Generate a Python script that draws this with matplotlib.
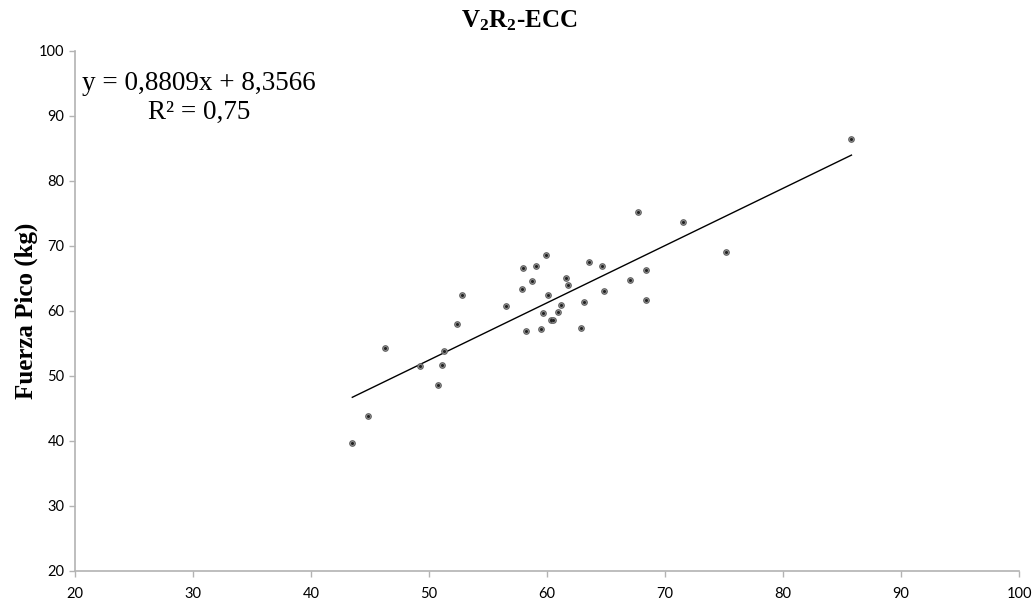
import numpy as np
import matplotlib
matplotlib.use('Agg')
import matplotlib.pyplot as plt

# data
carga = [43.5, 44.8, 46.3, 49.2, 50.8, 51.1, 51.3, 52.4, 52.8, 56.5,
         57.9, 58.0, 58.2, 58.7, 59.1, 59.5, 59.7, 59.9, 60.1, 60.3,
         60.5, 60.9, 61.2, 61.6, 61.8, 62.9, 63.1, 63.6, 64.7, 64.8,
         67.0, 67.7, 68.4, 68.4, 71.5, 75.2, 85.8]
fuerza = [39.6, 43.8, 54.3, 51.5, 48.5, 51.6, 53.8, 57.9, 62.4, 60.7,
          63.4, 66.6, 56.9, 64.5, 66.9, 57.2, 59.6, 68.5, 62.4, 58.5,
          58.6, 59.8, 60.9, 65.1, 64.0, 57.4, 61.3, 67.5, 66.8, 63.1,
          64.7, 75.2, 66.3, 61.6, 73.6, 69.1, 86.4]

pendiente = 0.8809
intercepto = 8.3566
r2 = 0.75

plt.rcParams['mathtext.fontset'] = 'custom'
plt.rcParams['mathtext.rm'] = 'Liberation Serif'
plt.rcParams['mathtext.bf'] = 'Liberation Serif:bold'

fig = plt.figure(figsize=(10.36, 6.03), dpi=100)
ax = fig.add_axes([0.0724, 0.0536, 0.9112, 0.8623])

x = np.array(carga)
y = np.array(fuerza)

xl = np.array([x.min(), x.max()])
ax.plot(xl, pendiente*xl + intercepto, color='black', lw=1.0, zorder=2)

ax.scatter(x, y, s=16, facecolor='#a0a0a0', edgecolor='#5f5f5f', linewidths=0.8, zorder=3)
ax.scatter(x, y, s=1.5, color='#222222', zorder=4)

ax.set_xlim(20, 100)
ax.set_ylim(20, 100)
ax.set_xticks(np.arange(20, 101, 10))
ax.set_yticks(np.arange(20, 101, 10))

for s in ['top', 'right']:
    ax.spines[s].set_visible(False)
for s in ['left', 'bottom']:
    ax.spines[s].set_color('#b3b3b3')
    ax.spines[s].set_linewidth(1.2)
ax.tick_params(axis='both', direction='out', length=4, width=1, color='#b3b3b3',
               labelsize=10.5, labelcolor='black')
ax.tick_params(axis='x', pad=8)
for lab in ax.get_xticklabels() + ax.get_yticklabels():
    lab.set_fontfamily('Lato')

ax.set_ylabel('Fuerza Pico (kg)', fontfamily='Liberation Serif', fontweight='bold',
              fontsize=18, labelpad=1)
fig.text(0.501, 0.965, r'$\mathbf{V_2R_2}$-ECC', ha='center', va='center',
         fontfamily='Liberation Serif', fontweight='bold', fontsize=18)

ax.text(0.192, 0.862, 'y = ' + f'{pendiente:.4f}'.replace('.', ',') + 'x + '
        + f'{intercepto:.4f}'.replace('.', ','),
        transform=fig.transFigure, ha='center', va='center',
        fontfamily='Liberation Serif', fontsize=19.5)
ax.text(0.192, 0.814, 'R² = ' + f'{r2:.2f}'.replace('.', ','),
        transform=fig.transFigure, ha='center', va='center',
        fontfamily='Liberation Serif', fontsize=19.5)

fig.savefig('out.png', dpi=100)
